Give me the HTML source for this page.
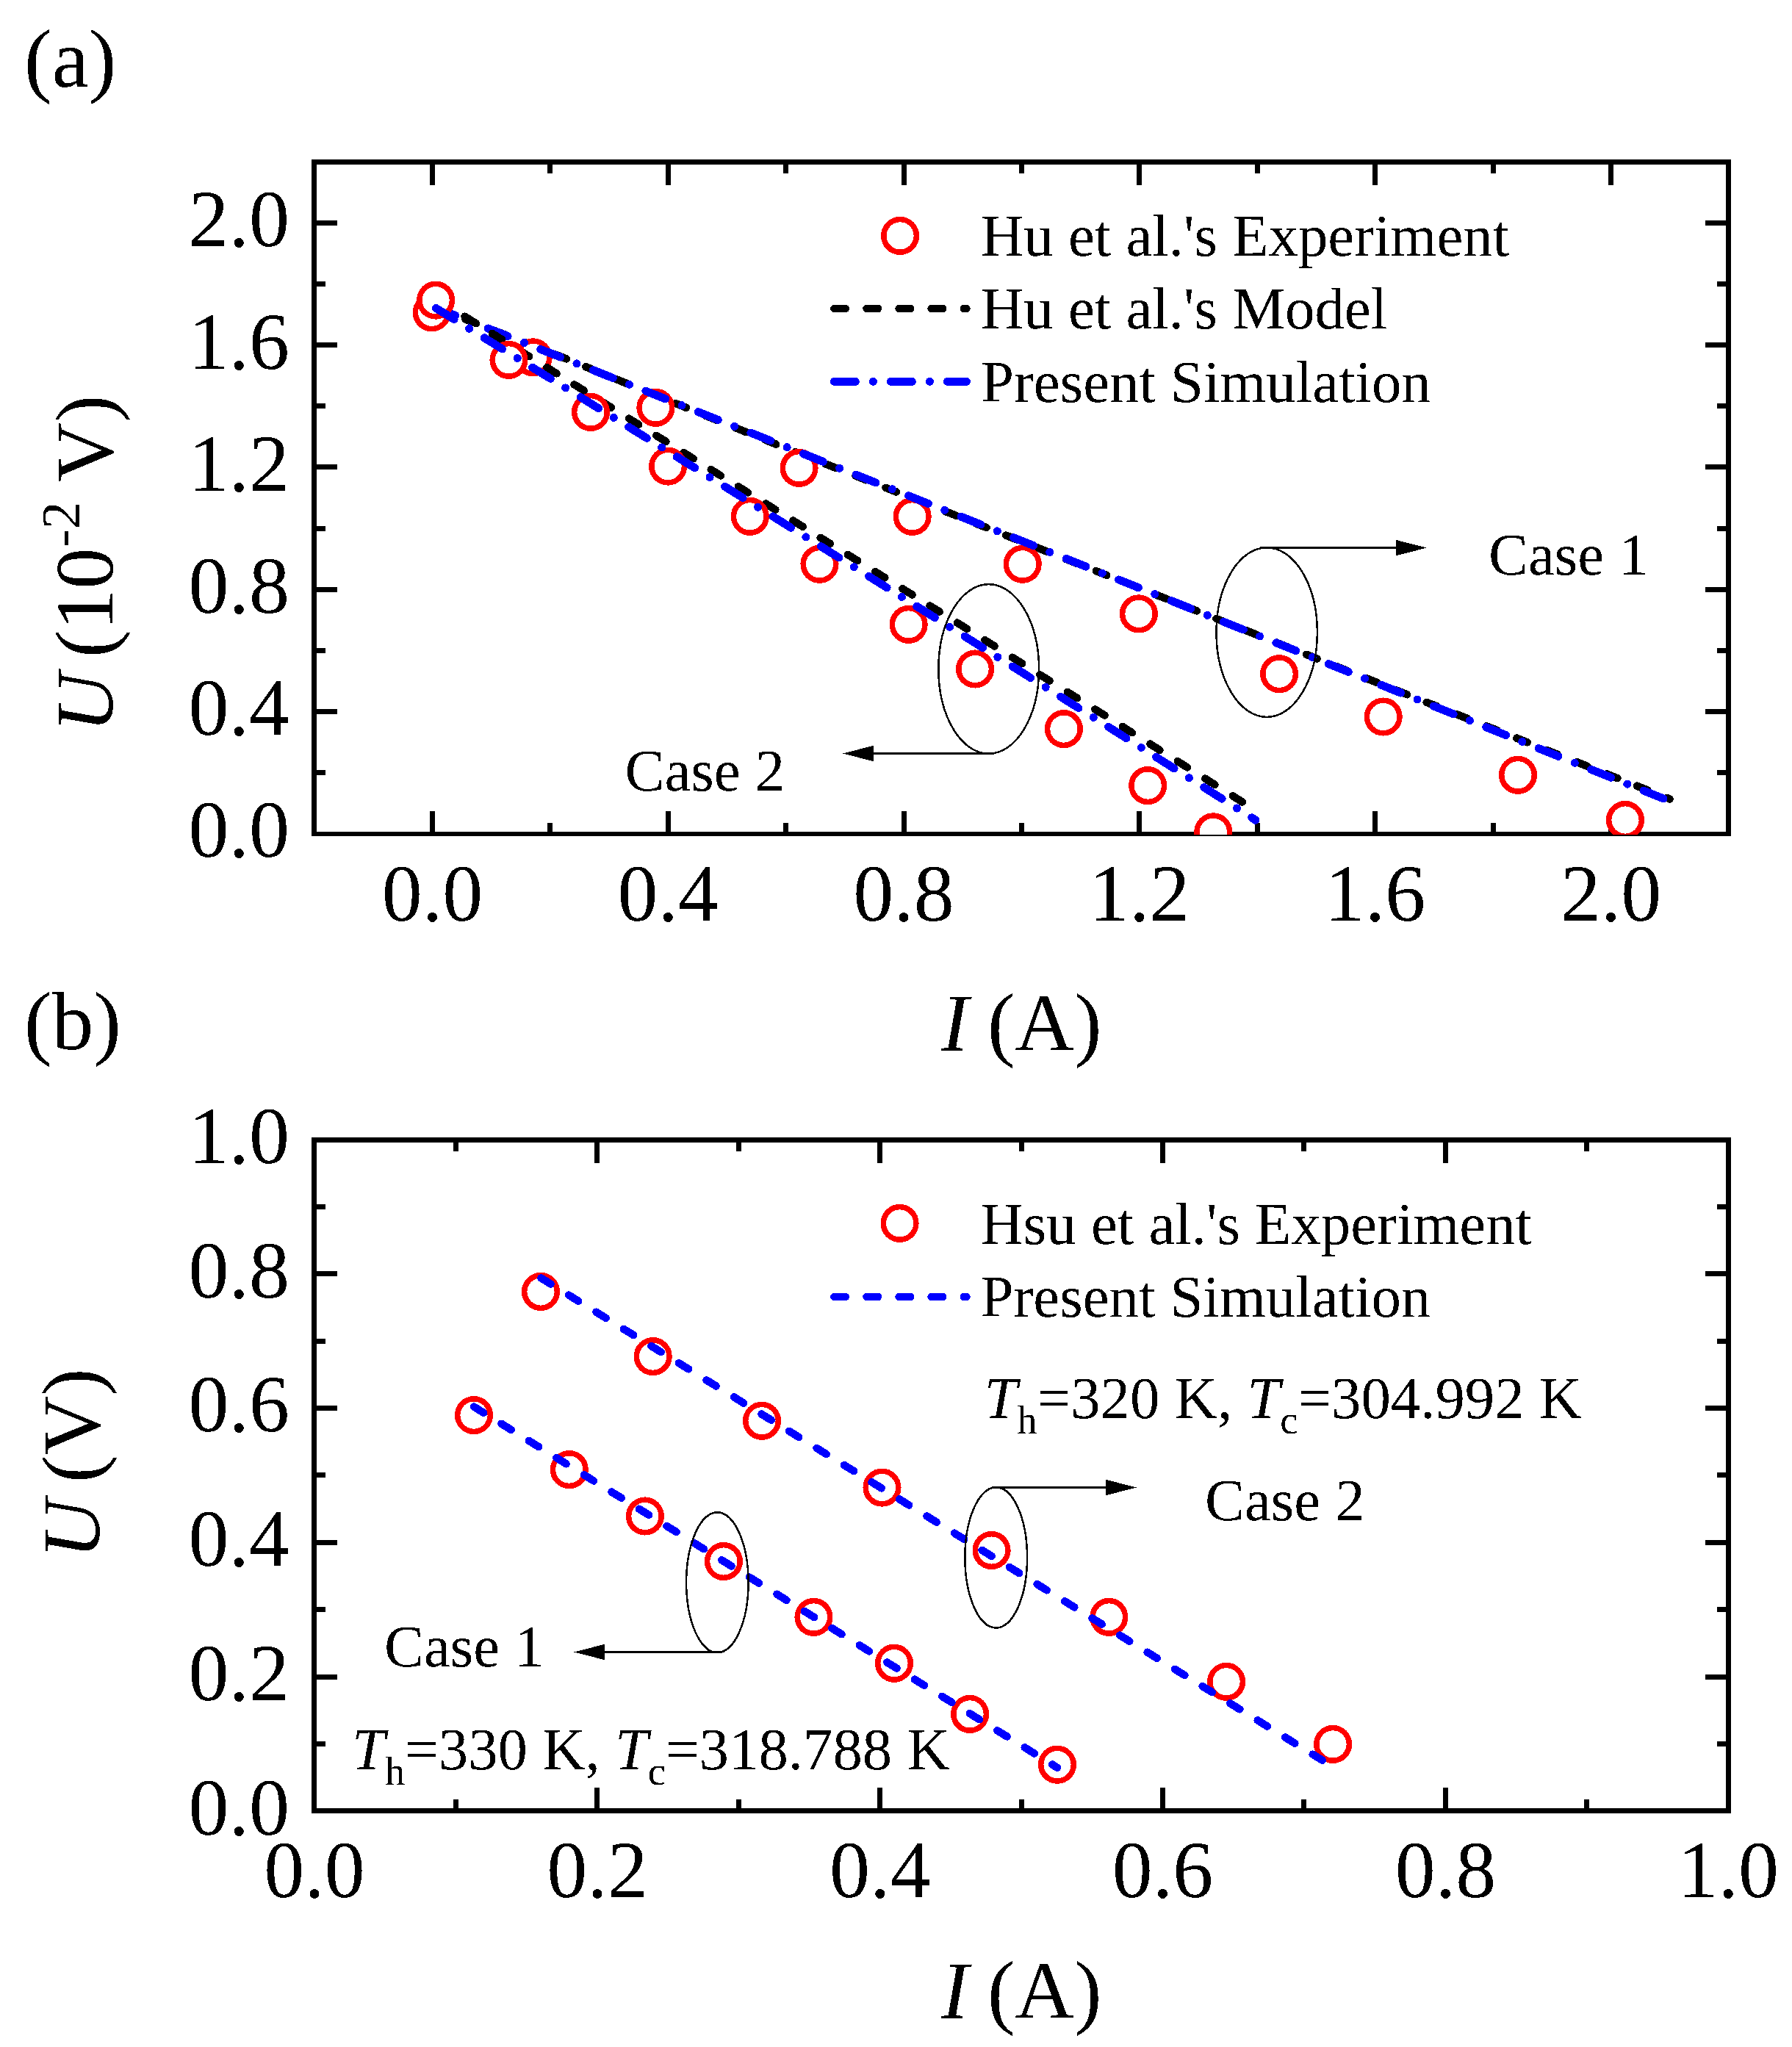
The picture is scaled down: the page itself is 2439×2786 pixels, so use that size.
<!DOCTYPE html>
<html lang="en"><head><meta charset="utf-8"><title>Figure</title>
<style>html,body{margin:0;padding:0;background:#fff}svg{display:block}text{font-family:'Liberation Serif','Times New Roman',serif;fill:#000;filter:url(#bin)}</style>
</head><body>
<svg width="2439" height="2786" viewBox="0 0 2439 2786" shape-rendering="crispEdges">
<rect width="2439" height="2786" fill="#fff"/>
<defs>
<clipPath id="ca"><rect x="427.5" y="220.5" width="1925.0" height="915.5"/></clipPath>
<clipPath id="cb"><rect x="427.5" y="1551.0" width="1925.0" height="913.5"/></clipPath>
<filter id="bin" x="-5%" y="-20%" width="110%" height="140%" color-interpolation-filters="sRGB"><feComponentTransfer><feFuncA type="discrete" tableValues="0 1"/></feComponentTransfer></filter>
</defs>
<g stroke="#000" stroke-width="7" fill="none" stroke-linecap="butt">
<path d="M427.50 217.00V1138.00M2352.50 217.00V1138.00M427.50 220.50H2352.50"/>
<path d="M424.00 1135.00H2356.00" stroke-width="6"/>
<path d="M588.50 1135.00V1103.50M588.50 220.50V252.00M909.28 1135.00V1103.50M909.28 220.50V252.00M1230.06 1135.00V1103.50M1230.06 220.50V252.00M1550.84 1135.00V1103.50M1550.84 220.50V252.00M1871.62 1135.00V1103.50M1871.62 220.50V252.00M2192.40 1135.00V1103.50M2192.40 220.50V252.00M748.89 1135.00V1119.50M748.89 220.50V236.00M1069.67 1135.00V1119.50M1069.67 220.50V236.00M1390.45 1135.00V1119.50M1390.45 220.50V236.00M1711.23 1135.00V1119.50M1711.23 220.50V236.00M2032.01 1135.00V1119.50M2032.01 220.50V236.00M427.50 968.38H459.00M2352.50 968.38H2321.00M427.50 802.15H459.00M2352.50 802.15H2321.00M427.50 635.93H459.00M2352.50 635.93H2321.00M427.50 469.70H459.00M2352.50 469.70H2321.00M427.50 303.48H459.00M2352.50 303.48H2321.00M427.50 1051.49H443.00M2352.50 1051.49H2337.00M427.50 885.26H443.00M2352.50 885.26H2337.00M427.50 719.04H443.00M2352.50 719.04H2337.00M427.50 552.82H443.00M2352.50 552.82H2337.00M427.50 386.59H443.00M2352.50 386.59H2337.00"/>
</g>
<g font-size="110">
<text x="588.5" y="1252.5" text-anchor="middle">0.0</text>
<text x="909.3" y="1252.5" text-anchor="middle">0.4</text>
<text x="1230.1" y="1252.5" text-anchor="middle">0.8</text>
<text x="1550.8" y="1252.5" text-anchor="middle">1.2</text>
<text x="1871.6" y="1252.5" text-anchor="middle">1.6</text>
<text x="2192.4" y="1252.5" text-anchor="middle">2.0</text>
<text x="394.0" y="1166.4" text-anchor="end">0.0</text>
<text x="394.0" y="1000.2" text-anchor="end">0.4</text>
<text x="394.0" y="834.0" text-anchor="end">0.8</text>
<text x="394.0" y="667.7" text-anchor="end">1.2</text>
<text x="394.0" y="501.5" text-anchor="end">1.6</text>
<text x="394.0" y="335.3" text-anchor="end">2.0</text>
</g>
<text x="33" y="117.5" font-size="113">(a)</text>
<text x="33" y="1428" font-size="113">(b)</text>
<text y="1429.6" font-size="112"><tspan x="1281" font-style="italic">I </tspan><tspan x="1344">(A)</tspan></text>
<text y="2746.9" font-size="112"><tspan x="1281" font-style="italic">I </tspan><tspan x="1344">(A)</tspan></text>
<g transform="translate(153.2 0) rotate(-90)" font-size="112">
<text y="0"><tspan x="-996.8" font-style="italic">U </tspan><tspan x="-895">(10</tspan><tspan x="-745" dy="-45" font-size="75">-2 </tspan><tspan x="-656" dy="45">V)</tspan></text>
</g>
<g transform="translate(135.1 0) rotate(-90)" font-size="112">
<text y="0"><tspan x="-2121.5" font-style="italic">U </tspan><tspan x="-2018">(V)</tspan></text>
</g>
<g clip-path="url(#ca)" fill="none">
<path stroke="#000" stroke-width="10.5" stroke-linecap="round" stroke-dasharray="15.5 28.5" d="M592.7 418.6L760.7 484.3L1063 607.4L1600.6 820.2L2272.5 1087.4"/>
<g stroke="#f00" stroke-width="7.5" fill="#fff">
<circle cx="587.7" cy="425.3" r="22.3"/>
<circle cx="725.7" cy="486.3" r="22.3"/>
<circle cx="892.4" cy="554.9" r="22.3"/>
<circle cx="1087.6" cy="636.9" r="22.3"/>
<circle cx="1241.7" cy="702.9" r="22.3"/>
<circle cx="1391.7" cy="767.8" r="22.3"/>
<circle cx="1549.9" cy="835.4" r="22.3"/>
<circle cx="1741.1" cy="917.2" r="22.3"/>
<circle cx="1882.7" cy="975.5" r="22.3"/>
<circle cx="2066.0" cy="1054.8" r="22.3"/>
<circle cx="2212.0" cy="1116.0" r="22.3"/>
</g>
<path stroke="#00f" stroke-width="11" stroke-linecap="round" stroke-dasharray="28.9 24.05 0.01 24.04" d="M592.7 418.6Q1432.6 751.5 2272.5 1090.4"/>
<path stroke="#000" stroke-width="10.5" stroke-linecap="round" stroke-dasharray="15.5 28.35" d="M632.6 430.7L1302.9 847.6"/>
<path stroke="#000" stroke-width="10.5" stroke-linecap="round" stroke-dasharray="15.5 28.78" d="M1302.9 847.6L1690.9 1091.5"/>
<g stroke="#f00" stroke-width="7.5" fill="#fff">
<circle cx="593.1" cy="408.6" r="22.3"/>
<circle cx="692.5" cy="489.9" r="22.3"/>
<circle cx="804.0" cy="560.9" r="22.3"/>
<circle cx="909.1" cy="634.6" r="22.3"/>
<circle cx="1020.8" cy="702.9" r="22.3"/>
<circle cx="1115.5" cy="767.8" r="22.3"/>
<circle cx="1236.7" cy="849.9" r="22.3"/>
<circle cx="1327.1" cy="910.5" r="22.3"/>
<circle cx="1447.9" cy="992.1" r="22.3"/>
<circle cx="1562.2" cy="1069.1" r="22.3"/>
<circle cx="1651.3" cy="1132.3" r="22.3"/>
</g>
<path stroke="#00f" stroke-width="11" stroke-linecap="round" stroke-dasharray="28.9 24.05 0.01 24.04" d="M593.5 419.5Q1151.5 761.95 1708.9 1116.2"/>
</g>
<g fill="none">
<circle cx="1225.1" cy="320.9" r="22.3" stroke="#f00" stroke-width="7.5"/>
<path stroke="#000" stroke-width="10.5" stroke-linecap="round" stroke-dasharray="15.5 28.58" d="M1135.4 420H1315.4"/>
<path stroke="#00f" stroke-width="11" stroke-linecap="round" stroke-dasharray="28.9 24.05 0.01 24.04" d="M1135.4 519.3H1315.4"/>
</g>
<g font-size="80.8">
<text x="1335" y="347.8" font-size="80.8">Hu et al.'s Experiment</text>
<text x="1335" y="447" font-size="80.8">Hu et al.'s Model</text>
<text x="1335" y="546.8" font-size="80.8">Present Simulation</text>
<text x="2026" y="781.6">Case 1</text>
<text x="850.5" y="1075.5">Case 2</text>
</g>
<g stroke="#000" stroke-width="2.5" fill="none">
<ellipse cx="1724.2" cy="860.6" rx="68.7" ry="115.3"/>
<ellipse cx="1345.7" cy="910.45" rx="68.4" ry="115.3"/>
</g>
<path d="M1715.0 745.6H1899.8" stroke="#000" stroke-width="3" fill="none"/>
<path d="M1941.8 745.6L1899.8 734.8V756.4Z" fill="#000"/>
<path d="M1353.0 1025.5H1189.3" stroke="#000" stroke-width="3" fill="none"/>
<path d="M1147.0 1025.5L1189.3 1014.7V1036.3Z" fill="#000"/>
<g stroke="#000" stroke-width="7" fill="none" stroke-linecap="butt">
<path d="M427.50 1547.50V2468.00M2352.50 1547.50V2468.00M427.50 1551.00H2352.50"/>
<path d="M424.00 2464.50H2356.00" stroke-width="7"/>
<path d="M812.92 2464.50V2433.00M812.92 1551.00V1582.50M1197.74 2464.50V2433.00M1197.74 1551.00V1582.50M1582.56 2464.50V2433.00M1582.56 1551.00V1582.50M1967.38 2464.50V2433.00M1967.38 1551.00V1582.50M620.51 2464.50V2449.00M620.51 1551.00V1566.50M1005.33 2464.50V2449.00M1005.33 1551.00V1566.50M1390.15 2464.50V2449.00M1390.15 1551.00V1566.50M1774.97 2464.50V2449.00M1774.97 1551.00V1566.50M2159.79 2464.50V2449.00M2159.79 1551.00V1566.50M427.50 2282.12H459.00M2352.50 2282.12H2321.00M427.50 2099.34H459.00M2352.50 2099.34H2321.00M427.50 1916.56H459.00M2352.50 1916.56H2321.00M427.50 1733.78H459.00M2352.50 1733.78H2321.00M427.50 2373.51H443.00M2352.50 2373.51H2337.00M427.50 2190.73H443.00M2352.50 2190.73H2337.00M427.50 2007.95H443.00M2352.50 2007.95H2337.00M427.50 1825.17H443.00M2352.50 1825.17H2337.00M427.50 1642.39H443.00M2352.50 1642.39H2337.00"/>
</g>
<g font-size="110">
<text x="428.1" y="2582.0" text-anchor="middle">0.0</text>
<text x="812.9" y="2582.0" text-anchor="middle">0.2</text>
<text x="1197.7" y="2582.0" text-anchor="middle">0.4</text>
<text x="1582.6" y="2582.0" text-anchor="middle">0.6</text>
<text x="1967.4" y="2582.0" text-anchor="middle">0.8</text>
<text x="2352.2" y="2582.0" text-anchor="middle">1.0</text>
<text x="394.0" y="2496.7" text-anchor="end">0.0</text>
<text x="394.0" y="2313.9" text-anchor="end">0.2</text>
<text x="394.0" y="2131.1" text-anchor="end">0.4</text>
<text x="394.0" y="1948.4" text-anchor="end">0.6</text>
<text x="394.0" y="1765.6" text-anchor="end">0.8</text>
<text x="394.0" y="1582.8" text-anchor="end">1.0</text>
</g>
<g clip-path="url(#cb)" fill="none">
<g stroke="#f00" stroke-width="7.5" fill="#fff">
<circle cx="645.0" cy="1926.1" r="22.3"/>
<circle cx="774.8" cy="2000.1" r="22.3"/>
<circle cx="877.9" cy="2063.5" r="22.3"/>
<circle cx="984.9" cy="2125.0" r="22.3"/>
<circle cx="1107.5" cy="2200.9" r="22.3"/>
<circle cx="1217.0" cy="2263.7" r="22.3"/>
<circle cx="1320.1" cy="2332.9" r="22.3"/>
<circle cx="1439.0" cy="2401.7" r="22.3"/>
<circle cx="736.0" cy="1758.0" r="22.3"/>
<circle cx="888.7" cy="1846.1" r="22.3"/>
<circle cx="1037.0" cy="1933.8" r="22.3"/>
<circle cx="1200.5" cy="2024.6" r="22.3"/>
<circle cx="1349.6" cy="2110.0" r="22.3"/>
<circle cx="1509.3" cy="2200.9" r="22.3"/>
<circle cx="1669.1" cy="2288.8" r="22.3"/>
<circle cx="1814.1" cy="2373.9" r="22.3"/>
</g>
<g stroke-width="10.5" stroke-linecap="round" stroke="#00f" stroke-dasharray="15.5 28.58">
<path d="M736.4 1739.4L1814.1 2404.6"/>
<path d="M645 1914.6L1439 2405.8"/>
</g>
</g>
<g fill="none">
<circle cx="1224.6" cy="1664.9" r="22.3" stroke="#f00" stroke-width="7.5"/>
<path stroke="#00f" stroke-width="10.5" stroke-linecap="round" stroke-dasharray="15.5 28.58" d="M1135.4 1765H1315.4"/>
</g>
<g font-size="80.8">
<text x="1334.5" y="1693.1" font-size="80.8">Hsu et al.'s Experiment</text>
<text x="1334.5" y="1791.9" font-size="80.8">Present Simulation</text>
<text x="1640" y="2069.3">Case 2</text>
<text x="523" y="2268.3">Case 1</text>
<text y="1930.2"><tspan x="1339.4" font-style="italic">T</tspan><tspan dy="21" font-size="54.5">h</tspan><tspan dy="-21">=320 K, </tspan><tspan font-style="italic">T</tspan><tspan dy="21" font-size="54.5">c</tspan><tspan dy="-21">=304.992 K</tspan></text>
<text y="2407.5"><tspan x="479.0" font-style="italic">T</tspan><tspan dy="21" font-size="54.5">h</tspan><tspan dy="-21">=330 K, </tspan><tspan font-style="italic">T</tspan><tspan dy="21" font-size="54.5">c</tspan><tspan dy="-21">=318.788 K</tspan></text>
</g>
<g stroke="#000" stroke-width="2.5" fill="none">
<ellipse cx="1355.7" cy="2119.9" rx="42.35" ry="95.65"/>
<ellipse cx="976.35" cy="2153.8" rx="42.25" ry="95.45"/>
</g>
<path d="M1349.6 2024.5H1504.6" stroke="#000" stroke-width="3" fill="none"/>
<path d="M1547.0 2024.5L1504.6 2013.7V2035.3Z" fill="#000"/>
<path d="M983.0 2248.5H823.4" stroke="#000" stroke-width="3" fill="none"/>
<path d="M781.1 2248.5L823.4 2237.7V2259.3Z" fill="#000"/>
</svg>
</body></html>
